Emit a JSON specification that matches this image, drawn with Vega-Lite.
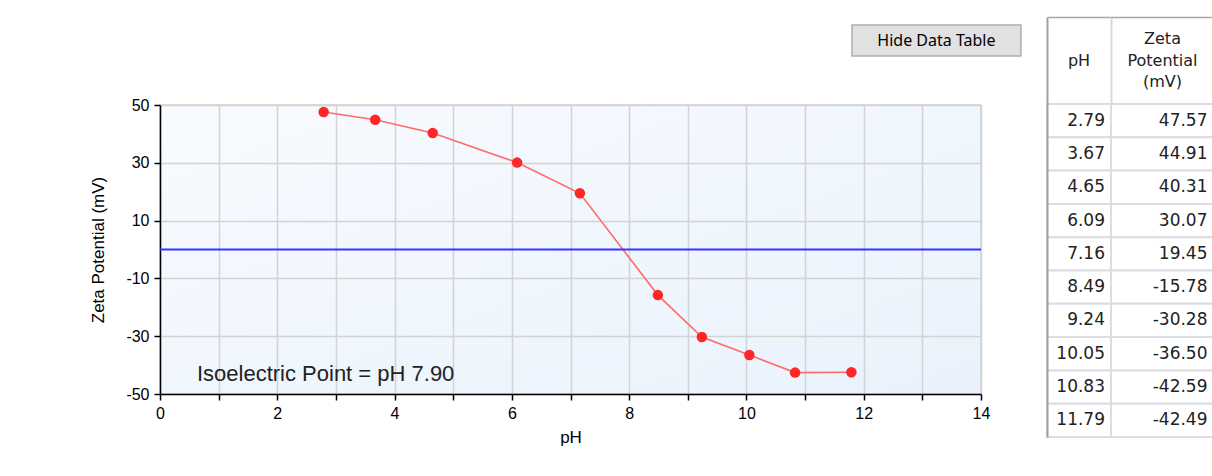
{
  "$schema": "https://vega.github.io/schema/vega-lite/v6.json",
  "width": 821,
  "height": 289,
  "autosize": {"type": "none"},
  "padding": {"left": 160, "top": 105, "right": 231, "bottom": 82},
  "background": "white",
  "config": {
    "font": "Liberation Sans",
    "locale": {"number": {"decimal": ".", "thousands": ",", "grouping": [3], "currency": ["$", ""], "minus": "-"}},
    "view": {
      "fill": {"gradient": "linear", "x1": 0, "y1": 0, "x2": 1, "y2": 1, "stops": [{"offset": 0, "color": "#f8fbff"}, {"offset": 1, "color": "#e9f2fc"}]},
      "stroke": "#d2d2d2",
      "strokeWidth": 1.5
    }
  },
  "datasets": {
    "zeta": [
      {"pH": 2.79, "zeta": 47.57},
      {"pH": 3.67, "zeta": 44.91},
      {"pH": 4.65, "zeta": 40.31},
      {"pH": 6.09, "zeta": 30.07},
      {"pH": 7.16, "zeta": 19.45},
      {"pH": 8.49, "zeta": -15.78},
      {"pH": 9.24, "zeta": -30.28},
      {"pH": 10.05, "zeta": -36.5},
      {"pH": 10.83, "zeta": -42.59},
      {"pH": 11.79, "zeta": -42.49}
    ]
  },
  "data": {"name": "zeta"},
  "layer": [
    {
      "layer": [
        {
          "mark": {"type": "line", "color": "#ff6b6b", "strokeWidth": 1.6},
          "encoding": {
            "x": {
              "field": "pH", "type": "quantitative",
              "scale": {"domain": [0, 14], "nice": false, "zero": false},
              "axis": {
                "title": "pH", "values": [0,1,2,3,4,5,6,7,8,9,10,11,12,13,14],
                "labelExpr": "datum.value % 2 === 0 ? '' + datum.value : ''",
                "grid": true, "gridColor": "#d3d3d3", "gridWidth": 1.5,
                "domainColor": "#000", "domainWidth": 1.5,
                "tickColor": "#000", "tickWidth": 1.5, "tickSize": 6,
                "labelFont": "Liberation Sans", "labelFontSize": 16, "labelColor": "#000", "labelPadding": 5,
                "labelFlush": false, "labelOverlap": false,
                "titleFont": "Liberation Sans", "titleFontSize": 17, "titleFontWeight": "normal", "titleColor": "#000", "titlePadding": 8
              }
            },
            "y": {
              "field": "zeta", "type": "quantitative",
              "scale": {"domain": [-50, 50], "nice": false, "zero": false},
              "axis": {
                "title": "Zeta Potential (mV)", "values": [-50,-40,-30,-20,-10,0,10,20,30,40,50],
                "labelExpr": "(datum.value + 50) % 20 === 0 ? '' + datum.value : ''",
                "grid": true, "gridColor": "#d3d3d3", "gridWidth": 1.5,
                "domainColor": "#000", "domainWidth": 1.5,
                "tickColor": "#000", "tickWidth": 1.5, "tickSize": 6,
                "labelFont": "Liberation Sans", "labelFontSize": 16, "labelColor": "#000", "labelPadding": 5,
                "labelFlush": false, "labelOverlap": false,
                "titleFont": "Liberation Sans", "titleFontSize": 17, "titleFontWeight": "normal", "titleColor": "#000", "titlePadding": 18
              }
            }
          }
        },
        {
          "mark": {"type": "point", "filled": true, "size": 110, "color": "#ff2626", "opacity": 1},
          "encoding": {
            "x": {"field": "pH", "type": "quantitative"},
            "y": {"field": "zeta", "type": "quantitative"}
          }
        },
        {
          "data": {"values": [{}]},
          "mark": {"type": "rule", "color": "#3535ff", "strokeWidth": 2},
          "encoding": {"y": {"datum": 0, "type": "quantitative"}}
        },
        {
          "data": {"values": [{"label": "Isoelectric Point = pH 7.90"}]},
          "mark": {"type": "text", "align": "left", "baseline": "middle", "fontSize": 22, "font": "Liberation Sans", "color": "#222222"},
          "encoding": {
            "x": {"datum": 0.63, "type": "quantitative"},
            "y": {"datum": -43.1, "type": "quantitative"},
            "text": {"field": "label"}
          }
        },
        {
          "data": {"values": [{"label": "Hide Data Table"}]},
          "mark": {"type": "rect", "fill": "#e1e1e1", "stroke": "#adadad", "strokeWidth": 1.5},
          "encoding": {
            "x": {"datum": 11.8, "type": "quantitative"},
            "x2": {"datum": 14.68},
            "y": {"datum": 77.7, "type": "quantitative"},
            "y2": {"datum": 66.95}
          }
        },
        {
          "data": {"values": [{"label": "Hide Data Table"}]},
          "mark": {"type": "text", "align": "center", "baseline": "middle", "fontSize": 16, "font": "Noto Sans", "color": "#000000"},
          "encoding": {
            "x": {"datum": 13.24, "type": "quantitative"},
            "y": {"datum": 72.3, "type": "quantitative"},
            "text": {"field": "label"}
          }
        }
      ]
    },
    {
      "transform": [{"fold": ["pH"], "as": ["col", "val"]}],
      "encoding": {
        "x": {
          "field": "col", "type": "nominal",
          "scale": {"type": "band", "range": [887, 951], "paddingInner": 0, "paddingOuter": 0},
          "axis": {
            "orient": "top", "title": null, "labelExpr": "'pH'", "bandPosition": 0,
            "tickSize": -87, "tickColor": "#a0a0a0", "tickWidth": 2,
            "domain": true, "domainColor": "#a8a8a8", "domainWidth": 1.5, "grid": false,
            "labelPadding": 44, "labelBaseline": "middle", "labelAngle": 0, "labelAlign": "center",
            "labelFont": "DejaVu Sans", "labelFontSize": 16, "labelColor": "#222222", "offset": 88
          }
        },
        "y": {
          "field": "pH", "type": "ordinal",
          "scale": {"type": "band", "range": [-1, 332], "paddingInner": 0, "paddingOuter": 0},
          "axis": {
            "orient": "left", "offset": -887, "title": null, "labels": false, "ticks": false,
            "domain": true, "domainColor": "#a0a0a0", "domainWidth": 2, "grid": false
          }
        }
      },
      "layer": [
        {"mark": {"type": "rect", "fill": "white", "stroke": "#dcdce4", "strokeWidth": 2}},
        {
          "mark": {"type": "text", "align": "right", "baseline": "middle", "dx": 26, "font": "DejaVu Sans", "fontSize": 17, "color": "#222222"},
          "encoding": {"text": {"field": "val", "type": "quantitative", "format": ".2f"}}
        }
      ]
    },
    {
      "transform": [{"fold": ["zeta"], "as": ["col", "val"]}],
      "encoding": {
        "x": {
          "field": "col", "type": "nominal",
          "scale": {"type": "band", "range": [951, 1054], "paddingInner": 0, "paddingOuter": 0},
          "axis": {
            "orient": "top", "title": null, "labelExpr": "['Zeta', 'Potential', '(mV)']", "bandPosition": 0,
            "tickSize": -87, "tickColor": "#d8d8e0", "tickWidth": 2,
            "domain": true, "domainColor": "#a8a8a8", "domainWidth": 1.5, "grid": false,
            "labelPadding": 65.5, "labelBaseline": "middle", "labelAngle": 0, "labelAlign": "center",
            "labelLineHeight": 21.5,
            "labelFont": "DejaVu Sans", "labelFontSize": 16, "labelColor": "#222222", "offset": 88
          }
        },
        "y": {
          "field": "pH", "type": "ordinal",
          "scale": {"type": "band", "range": [-1, 332], "paddingInner": 0, "paddingOuter": 0},
          "axis": null
        }
      },
      "layer": [
        {"mark": {"type": "rect", "fill": "white", "stroke": "#dcdce4", "strokeWidth": 2}},
        {
          "mark": {"type": "text", "align": "right", "baseline": "middle", "dx": 45, "font": "DejaVu Sans", "fontSize": 17, "color": "#222222"},
          "encoding": {"text": {"field": "val", "type": "quantitative", "format": ".2f"}}
        }
      ]
    }
  ],
  "resolve": {
    "scale": {"x": "independent", "y": "independent"},
    "axis": {"x": "independent", "y": "independent"}
  }
}
